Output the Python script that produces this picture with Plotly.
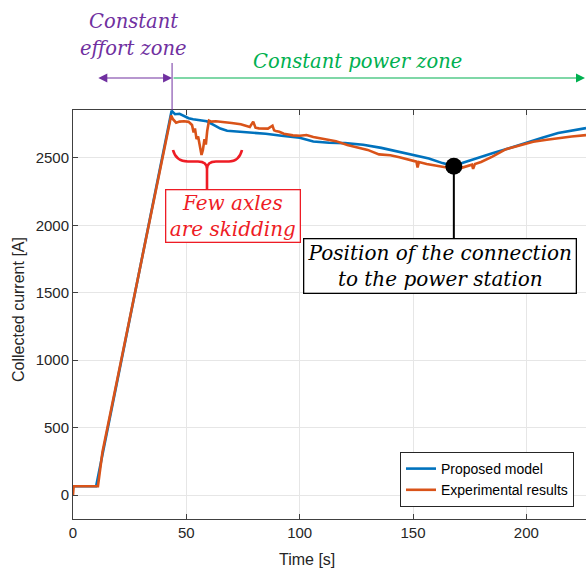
import plotly.graph_objects as go

# ---------------- data ----------------
model_time = [0, 10.2, 43.5, 45, 47, 49, 51, 53, 55, 57, 59, 62, 65, 68, 72, 78, 85, 92,
              100, 106, 113, 120, 128, 136, 143, 150, 157, 163, 168, 172, 178, 185, 192,
              200, 207, 214, 220, 226.3]
model_current = [65, 65, 2850, 2825, 2828, 2812, 2795, 2788, 2782, 2778, 2772, 2745, 2718,
                 2702, 2696, 2692, 2680, 2665, 2650, 2622, 2613, 2610, 2598, 2575, 2548,
                 2525, 2497, 2462, 2440, 2465, 2500, 2535, 2570, 2615, 2650, 2685, 2705, 2722]

exp_time = [0, 0.3, 11.0, 13.0, 43.3, 44, 45.5, 47, 49, 51, 52.5, 53.2, 53.8, 54.5, 55.2,
            56, 56.7, 57.3, 58, 58.6, 59.2, 60, 61, 63, 66, 70, 74, 78, 79.5, 80.5, 82, 86,
            88, 88.7, 89.5, 91, 93, 97, 100, 103, 106, 112, 116, 121, 126, 130, 135, 140,
            144, 148, 151.5, 152, 152.6, 156, 160, 165, 168, 171, 174, 176, 176.5, 177.3,
            180, 185, 191, 197, 203, 209, 215, 220, 226.3]
exp_current = [0, 65, 65, 320, 2815, 2790, 2762, 2770, 2772, 2768, 2745, 2690, 2720, 2640,
               2660, 2580, 2522, 2560, 2640, 2600, 2700, 2777, 2770, 2772, 2768, 2760, 2750,
               2730, 2770, 2725, 2720, 2718, 2740, 2705, 2700, 2695, 2680, 2668, 2665, 2670,
               2655, 2639, 2625, 2596, 2578, 2560, 2527, 2520, 2505, 2485, 2473, 2430, 2470,
               2455, 2445, 2430, 2420, 2425, 2440, 2450, 2420, 2455, 2470, 2510, 2565, 2595,
               2620, 2635, 2650, 2660, 2670]

connection_time = [168]
connection_current = [2438]

effort_zone = [10.5, 43.7]      # start / end of the constant effort zone [s]

x_ticks = [0, 50, 100, 150, 200]
y_ticks = [0, 500, 1000, 1500, 2000, 2500]

series_names = ["Proposed model", "Experimental results"]

# ---------------- layout geometry ----------------
W, H = 586, 569
PL, PR, PT, PB = 73, 586, 110, 519
X_RANGE = [0, 226.3]
Y_RANGE = [-178, 2856]


def fx(px):
    return (px - PL) / (PR - PL)


def fy(py):
    return (PB - py) / (PB - PT)


def data_to_px(t):
    return PL + (t - X_RANGE[0]) / (X_RANGE[1] - X_RANGE[0]) * (PR - PL)


BLUE = "#0072BD"
ORANGE = "#D95319"
PURPLE = "#7030A0"
GREEN = "#00B050"
RED = "#EE1C25"
AX = "#404040"
SERIF = "DejaVu Serif"
SANS = "Liberation Sans, Arial"

fig = go.Figure()
fig.add_trace(go.Scatter(x=model_time, y=model_current, mode="lines", name=series_names[0],
                         line=dict(color=BLUE, width=2.6)))
fig.add_trace(go.Scatter(x=exp_time, y=exp_current, mode="lines", name=series_names[1],
                         line=dict(color=ORANGE, width=2.6)))

# connection line + dot
fig.add_shape(type="line", xref="x", yref="paper",
              x0=connection_time[0], x1=connection_time[0],
              y0=fy(238), y1=(connection_current[0] - Y_RANGE[0]) / (Y_RANGE[1] - Y_RANGE[0]),
              line=dict(color="black", width=2))
fig.add_trace(go.Scatter(x=connection_time, y=connection_current, mode="markers",
                         marker=dict(color="black", size=17), showlegend=False,
                         hoverinfo="skip"))

shapes = []
annotations = []

# purple zone boundaries
x_start = data_to_px(effort_zone[0])
x_end = data_to_px(effort_zone[1])
for xp in (x_start, x_end):
    shapes.append(dict(type="line", xref="paper", yref="paper",
                       x0=fx(xp), x1=fx(xp), y0=fy(63), y1=fy(PT),
                       line=dict(color=PURPLE, width=1)))

# purple double arrow
annotations.append(dict(xref="paper", yref="paper", x=fx(x_end), y=fy(78),
                        axref="pixel", ayref="pixel", ax=-(x_end - x_start), ay=0,
                        text="", showarrow=True, arrowhead=2, startarrowhead=2,
                        arrowside="end+start", arrowsize=1.5, startarrowsize=1.5,
                        arrowwidth=1.2, arrowcolor=PURPLE, standoff=0, startstandoff=0))
# green arrow
annotations.append(dict(xref="paper", yref="paper", x=1.0, y=fy(78),
                        ax=-(PR - x_end), ay=0, text="", showarrow=True,
                        arrowhead=2, arrowsize=1.5, arrowwidth=1.2, arrowcolor=GREEN,
                        standoff=0))

# zone labels
annotations.append(dict(xref="paper", yref="paper", x=fx(133), y=fy(22), text="<i>Constant</i>",
                        showarrow=False, font=dict(family=SERIF, size=19.5, color=PURPLE),
                        xanchor="center", yanchor="middle"))
annotations.append(dict(xref="paper", yref="paper", x=fx(133), y=fy(48), text="<i>effort zone</i>",
                        showarrow=False, font=dict(family=SERIF, size=19.5, color=PURPLE),
                        xanchor="center", yanchor="middle"))
annotations.append(dict(xref="paper", yref="paper", x=fx(357), y=fy(62),
                        text="<i>Constant power zone</i>", showarrow=False,
                        font=dict(family=SERIF, size=19.5, color=GREEN),
                        xanchor="center", yanchor="middle"))

# red brace


def P(px, py):
    return f"{fx(px):.5f},{fy(py):.5f}"


brace = ("M " + P(173, 150) + " Q " + P(176, 161.5) + " " + P(188, 161.5) +
         " L " + P(198, 161.5) + " Q " + P(207, 161.5) + " " + P(207, 169) +
         " Q " + P(207, 161.5) + " " + P(216, 161.5) + " L " + P(229, 161.5) +
         " Q " + P(239, 161.5) + " " + P(242, 150) +
         " M " + P(207, 169) + " L " + P(207, 189))
shapes.append(dict(type="path", xref="paper", yref="paper", path=brace,
                   line=dict(color=RED, width=2.6)))

annotations.append(dict(xref="paper", yref="paper", x=fx(232.5), y=fy(215.5),
                        text="<i>Few axles</i><br><i>are skidding</i>", showarrow=False,
                        font=dict(family=SERIF, size=20, color=RED),
                        bgcolor="white", bordercolor=RED, borderwidth=1.3, borderpad=1,
                        width=131, height=49, xanchor="center", yanchor="middle", align="center"))

annotations.append(dict(xref="paper", yref="paper", x=fx(439.5), y=fy(265.5),
                        text="<i>Position of the connection</i><br><i>to the power station</i>",
                        showarrow=False, font=dict(family=SERIF, size=20, color="black"),
                        bgcolor="white", bordercolor="black", borderwidth=1.3, borderpad=1,
                        width=269, height=51, xanchor="center", yanchor="middle", align="center"))

# axis titles
annotations.append(dict(xref="paper", yref="paper", x=fx(307), y=fy(559), text="Time [s]",
                        showarrow=False, font=dict(family=SANS, size=16, color="#262626"),
                        xanchor="center", yanchor="middle"))
annotations.append(dict(xref="paper", yref="paper", x=fx(18), y=fy(310),
                        text="Collected current [A]", textangle=-90, showarrow=False,
                        font=dict(family=SANS, size=16, color="#262626"),
                        xanchor="center", yanchor="middle"))

fig.update_layout(
    width=W, height=H,
    margin=dict(l=PL, r=W - PR, t=PT, b=H - PB),
    paper_bgcolor="white", plot_bgcolor="white",
    shapes=shapes, annotations=annotations,
    showlegend=True,
    legend=dict(x=fx(574), y=fy(452), xanchor="right", yanchor="top",
                bgcolor="white", bordercolor="#262626", borderwidth=1,
                font=dict(family=SANS, size=14, color="black"),
                tracegroupgap=0, itemwidth=30),
    xaxis=dict(range=X_RANGE, tickvals=x_ticks, ticks="inside", ticklen=5,
               tickcolor=AX, showline=True, linecolor=AX, linewidth=1, mirror="ticks",
               showgrid=True, gridcolor="#E6E6E6", gridwidth=1, zeroline=False,
               tickfont=dict(family=SANS, size=15, color="#262626")),
    yaxis=dict(range=Y_RANGE, tickvals=y_ticks, ticks="inside", ticklen=5,
               tickcolor=AX, showline=True, linecolor=AX, linewidth=1, mirror=False,
               showgrid=True, gridcolor="#E6E6E6", gridwidth=1, zeroline=False,
               tickfont=dict(family=SANS, size=15, color="#262626")),
)

fig.write_html("out.html", config={"displayModeBar": False},
               post_script="document.body.style.margin='0';document.body.style.overflow='hidden';")
